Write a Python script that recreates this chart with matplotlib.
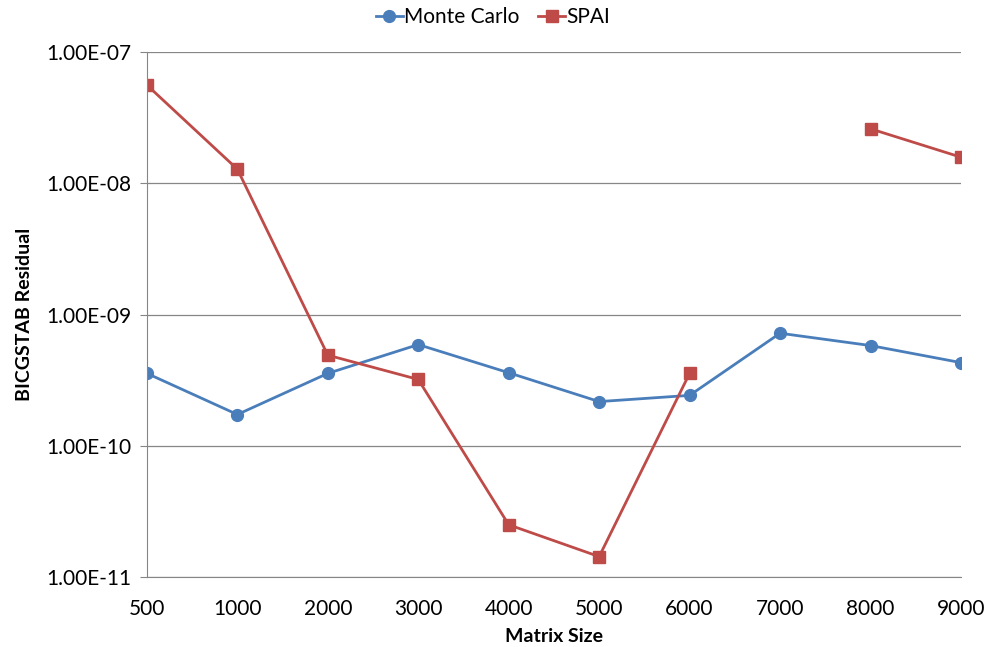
import numpy as np
import matplotlib.pyplot as plt
from matplotlib.ticker import FixedLocator, NullLocator

sizes = ['500', '1000', '2000', '3000', '4000', '5000', '6000', '7000', '8000', '9000']
monte_carlo = [3.56e-10, 1.73e-10, 3.56e-10, 5.9e-10, 3.6e-10, 2.17e-10, 2.42e-10, 7.2e-10, 5.8e-10, 4.3e-10]
spai = [5.6e-8, 1.28e-8, 4.9e-10, 3.2e-10, 2.5e-11, 1.43e-11, 3.56e-10, np.nan, 2.6e-8, 1.58e-8]
y_ticks = [1e-11, 1e-10, 1e-9, 1e-8, 1e-7]
y_labels = ['1.00E-11', '1.00E-10', '1.00E-09', '1.00E-08', '1.00E-07']

plt.rcParams['font.family'] = ['Lato', 'DejaVu Sans']

fig = plt.figure(figsize=(9.86, 6.47), dpi=100)
ax = fig.add_axes([0.149, 0.1082, 0.8256, 0.8114])

x = np.arange(len(sizes))
ax.plot(x, monte_carlo, color='#4a7ebb', marker='o', markersize=8.5, linewidth=2, label='Monte Carlo')
ax.plot(x, spai, color='#be4b48', marker='s', markersize=8.5, linewidth=2, label='SPAI')

ax.set_yscale('log')
ax.set_ylim(1e-11, 1e-7)
ax.set_xlim(0, 9)
ax.yaxis.set_major_locator(FixedLocator(y_ticks))
ax.yaxis.set_minor_locator(NullLocator())
ax.set_yticklabels(y_labels, fontsize=15)
ax.set_xticks(x)
ax.set_xticklabels(sizes, fontsize=15)
ax.tick_params(axis='x', length=0, pad=16)
ax.tick_params(axis='y', length=5, color='#868686', pad=6)

ax.grid(axis='y', color='#868686', linewidth=0.9)
ax.set_axisbelow(True)
for side in ['top', 'right']:
    ax.spines[side].set_visible(False)
for side in ['left', 'bottom']:
    ax.spines[side].set_color('#868686')

ax.set_xlabel('Matrix Size', fontsize=14, fontweight='bold', labelpad=6)
ax.set_ylabel('BICGSTAB Residual', fontsize=14, fontweight='bold', labelpad=10)

fig.legend(loc='upper center', bbox_to_anchor=(0.5, 1.018), ncol=2, frameon=False,
           fontsize=15, handlelength=1.3, handletextpad=0.05, columnspacing=0.9)

fig.savefig('out.png', dpi=100)
